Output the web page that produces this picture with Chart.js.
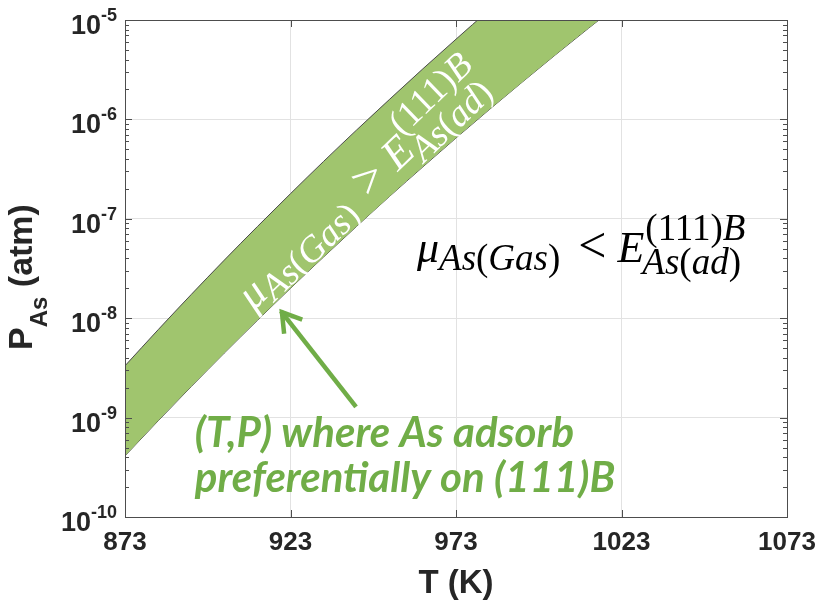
<!DOCTYPE html>
<html>
<head>
<meta charset="utf-8">
<script src="https://cdn.jsdelivr.net/npm/chart.js@4/dist/chart.umd.min.js"></script>
<style>
  html, body { margin: 0; padding: 0; background: #ffffff; }
  #wrap { width: 816px; height: 600px; }
</style>
</head>
<body>
<div id="wrap"><canvas id="chart" width="816" height="600"></canvas></div>
<script>
// Substrate temperature (K) and the two boundaries of the As pressure window (atm)
const temperatureK = [873, 883, 893, 903, 913, 923, 933, 943, 953, 963, 973, 983, 993, 1003, 1013, 1023];
const upperBoundaryAtm = [3.32e-9, 7.65e-9, 1.73e-8, 3.84e-8, 8.36e-8, 1.79e-7, 3.78e-7, 7.84e-7, 1.60e-6, 3.23e-6, 6.41e-6, 1.26e-5, 2.43e-5, 4.62e-5, 8.69e-5, 1.62e-4];
const lowerBoundaryAtm = [4.12e-10, 9.27e-10, 2.05e-9, 4.46e-9, 9.51e-9, 2.00e-8, 4.13e-8, 8.41e-8, 1.69e-7, 3.33e-7, 6.50e-7, 1.25e-6, 2.37e-6, 4.45e-6, 8.24e-6, 1.51e-5];

// Axis ticks
const temperatureTicks = [873, 923, 973, 1023, 1073];
const pressureDecades = [-10, -9, -8, -7, -6, -5];

// Annotation texts
const noteLines = ['(T,P) where As adsorb', 'preferentially on (111)B'];

const SANS = '"Liberation Sans", Arial, Helvetica, sans-serif';
const SERIF = '"Liberation Serif", "Times New Roman", serif';
const NOTE_FONT = 'Lato, "Open Sans", sans-serif';
const INK = '#262626';
const GREEN = '#70ad47';
const BAND = '#a0c56e';

const toPoints = (vals) => temperatureK.map((t, i) => ({ x: t, y: vals[i] }));

function runs(ctx, x, y, parts, size) {
  for (const [style, text] of parts) {
    ctx.font = `${style} ${size}px ${SERIF}`;
    ctx.fillText(text, x, y);
    x += ctx.measureText(text).width;
  }
  return x;
}

// μ_As(Gas) <rel> E^(111)B_As(ad), drawn from the baseline start of μ
function drawRelation(ctx, rel) {
  ctx.textAlign = 'left';
  ctx.textBaseline = 'alphabetic';
  let x = runs(ctx, 0, 0, [['italic', 'μ']], 44);
  x = runs(ctx, x, 8, [['italic', 'As'], ['normal', '('], ['italic', 'Gas'], ['normal', ')']], 37);
  x += 18;
  x = runs(ctx, x, 0, [['normal', rel]], 50);
  x += 11;
  x = runs(ctx, x, 0, [['italic', 'E']], 44);
  runs(ctx, x + 1, -22, [['normal', '(111)'], ['italic', 'B']], 37);
  runs(ctx, x - 2, 12, [['italic', 'As'], ['normal', '('], ['italic', 'ad'], ['normal', ')']], 37);
}

const decorations = {
  id: 'decorations',
  afterDraw(chart) {
    const ctx = chart.ctx;
    const xs = chart.scales.x;
    const ys = chart.scales.y;
    const a = chart.chartArea;
    const L = Math.round(a.left), R = Math.round(a.right), T = Math.round(a.top), B = Math.round(a.bottom);
    ctx.save();

    // axes box
    ctx.strokeStyle = '#4d4d4d';
    ctx.lineWidth = 1;
    ctx.strokeRect(L + 0.5, T + 0.5, R - L, B - T);

    // x ticks, inward at bottom and top
    ctx.beginPath();
    for (const t of temperatureTicks) {
      const px = Math.round(xs.getPixelForValue(t)) + 0.5;
      ctx.moveTo(px, B); ctx.lineTo(px, B - 7);
      ctx.moveTo(px, T); ctx.lineTo(px, T + 7);
    }
    // y ticks (major and minor), inward at left and right
    for (const d of pressureDecades) {
      for (let m = 1; m <= 9; m++) {
        if (m > 1 && d === pressureDecades[pressureDecades.length - 1]) break;
        const py = Math.round(ys.getPixelForValue(m * Math.pow(10, d))) + 0.5;
        const len = m === 1 ? 7 : 4;
        ctx.moveTo(L, py); ctx.lineTo(L + len, py);
        ctx.moveTo(R, py); ctx.lineTo(R - len, py);
      }
    }
    ctx.stroke();

    // y tick labels 10^n
    ctx.fillStyle = INK;
    ctx.textBaseline = 'alphabetic';
    for (const d of pressureDecades) {
      const py = ys.getPixelForValue(Math.pow(10, d));
      const exp = String(d);
      ctx.font = `bold 18px ${SANS}`;
      const we = ctx.measureText(exp).width;
      ctx.textAlign = 'left';
      ctx.fillText(exp, 117 - we, py + 1);
      ctx.font = `bold 27px ${SANS}`;
      ctx.textAlign = 'right';
      ctx.fillText('10', 117 - we, py + 14);
    }

    // axis titles
    ctx.textAlign = 'center';
    ctx.font = `bold 33px ${SANS}`;
    ctx.fillText('T (K)', (L + R) / 2, 593);

    ctx.save();
    ctx.translate(32, 350);
    ctx.rotate(-Math.PI / 2);
    ctx.textAlign = 'left';
    let x = 0;
    ctx.font = `bold 34px ${SANS}`;
    ctx.fillText('P', x, 0); x += ctx.measureText('P').width;
    ctx.font = `bold 24px ${SANS}`;
    ctx.fillText('As', x, 15); x += ctx.measureText('As').width;
    ctx.font = `bold 34px ${SANS}`;
    ctx.fillText(' (atm)', x, 0);
    ctx.restore();

    // relation outside the window
    ctx.fillStyle = '#000000';
    ctx.save();
    ctx.translate(xs.getPixelForValue(961.2), ys.getPixelForValue(Math.pow(10, -7.435)));
    drawRelation(ctx, '<');
    ctx.restore();

    // relation inside the window, along the band
    ctx.fillStyle = '#ffffff';
    ctx.save();
    ctx.translate(xs.getPixelForValue(911.8), ys.getPixelForValue(Math.pow(10, -7.93)));
    ctx.rotate(-44 * Math.PI / 180);
    drawRelation(ctx, '>');
    ctx.restore();

    // arrow pointing into the window
    const tx = xs.getPixelForValue(942.8), ty = ys.getPixelForValue(Math.pow(10, -8.893));
    const hx = xs.getPixelForValue(920.1), hy = ys.getPixelForValue(Math.pow(10, -7.928));
    const ang = Math.atan2(ty - hy, tx - hx);
    ctx.strokeStyle = GREEN;
    ctx.lineWidth = 4.5;
    ctx.lineCap = 'butt';
    ctx.beginPath();
    ctx.moveTo(tx, ty); ctx.lineTo(hx, hy);
    ctx.stroke();
    ctx.lineJoin = 'miter';
    ctx.beginPath();
    const wing = 23, spread = 30 * Math.PI / 180;
    ctx.moveTo(hx + wing * Math.cos(ang - spread), hy + wing * Math.sin(ang - spread));
    ctx.lineTo(hx + 1, hy + 1);
    ctx.lineTo(hx + wing * Math.cos(ang + spread), hy + wing * Math.sin(ang + spread));
    ctx.stroke();

    // note text
    ctx.fillStyle = GREEN;
    ctx.textAlign = 'left';
    ctx.font = `italic bold 36px ${NOTE_FONT}`;
    const w1 = ctx.measureText(noteLines[0]).width;
    const w2 = ctx.measureText(noteLines[1]).width;
    const size = 36 * (382 + 418) / (w1 + w2);
    ctx.font = `italic bold ${size.toFixed(1)}px ${NOTE_FONT}`;
    const nx = xs.getPixelForValue(894.1);
    ctx.fillText(noteLines[0], nx, ys.getPixelForValue(Math.pow(10, -9.296)));
    ctx.fillText(noteLines[1], nx, ys.getPixelForValue(Math.pow(10, -9.748)));

    ctx.restore();
  }
};

new Chart(document.getElementById('chart'), {
  type: 'line',
  data: {
    datasets: [
      {
        label: 'upper',
        data: toPoints(upperBoundaryAtm),
        borderColor: '#4a4a4a',
        borderWidth: 1,
        backgroundColor: BAND,
        fill: '+1',
        pointRadius: 0,
        cubicInterpolationMode: 'monotone'
      },
      {
        label: 'lower',
        data: toPoints(lowerBoundaryAtm),
        borderColor: '#4a4a4a',
        borderWidth: 1,
        fill: false,
        pointRadius: 0,
        cubicInterpolationMode: 'monotone'
      }
    ]
  },
  options: {
    responsive: false,
    animation: false,
    devicePixelRatio: 1,
    layout: { padding: { top: 20, right: 29, left: 0, bottom: 0 } },
    plugins: { legend: { display: false }, tooltip: { enabled: false } },
    scales: {
      x: {
        type: 'linear',
        min: 873,
        max: 1073,
        afterBuildTicks: (s) => { s.ticks = temperatureTicks.map(v => ({ value: v })); },
        afterFit: (s) => { s.height = 83; s.paddingLeft = 0; s.paddingRight = 0; },
        grid: { color: '#e2e2e2', lineWidth: 1, drawTicks: false },
        border: { display: false },
        ticks: {
          color: INK,
          padding: 10,
          maxRotation: 0,
          font: { family: SANS, size: 26, weight: 'bold' },
          callback: (v) => String(v)
        }
      },
      y: {
        type: 'logarithmic',
        min: 1e-10,
        max: 1e-5,
        afterBuildTicks: (s) => { s.ticks = pressureDecades.map(d => ({ value: Math.pow(10, d) })); },
        afterFit: (s) => { s.width = 125; s.paddingTop = 0; s.paddingBottom = 0; },
        grid: { color: '#e2e2e2', lineWidth: 1, drawTicks: false },
        border: { display: false },
        ticks: { display: false }
      }
    }
  },
  plugins: [decorations]
});
</script>
</body>
</html>
